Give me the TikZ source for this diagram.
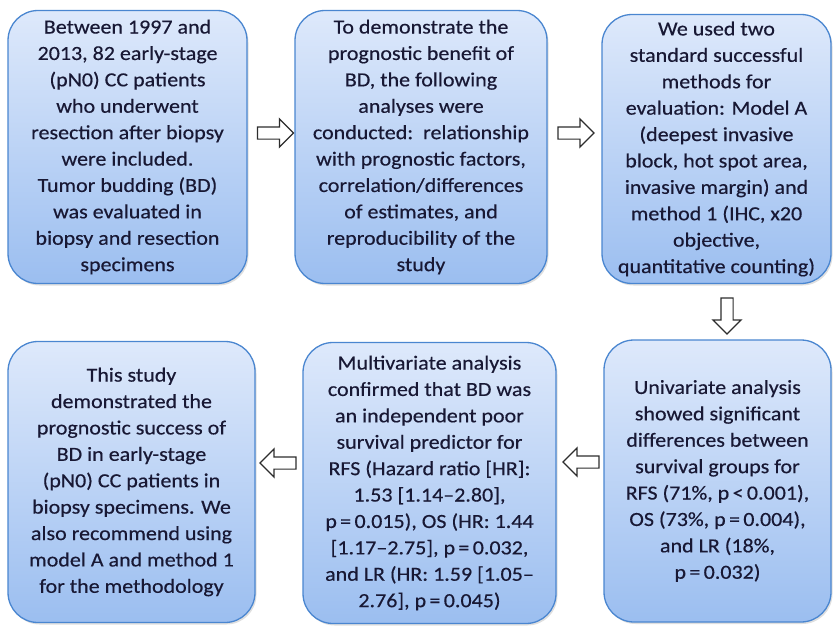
\documentclass[tikz,border=0pt]{standalone}
\usepackage{fontspec}
\setmainfont{Carlito}[FakeStretch=1.1,FakeBold=0.4]
\usetikzlibrary{shapes.arrows,shadows}
\definecolor{boxtop}{RGB}{222,233,251}
\definecolor{boxbot}{RGB}{155,190,240}
\definecolor{boxedge}{RGB}{74,134,208}
\definecolor{txt}{RGB}{24,24,52}
\definecolor{arr}{RGB}{45,45,45}
\tikzset{
  flowbox/.style={draw=boxedge, line width=1.3pt, rounded corners=30pt,
    top color=boxtop, bottom color=boxbot, align=center, text=txt,
    font=\fontsize{20}{26.4}\selectfont, inner sep=0pt,
    drop shadow={opacity=0.25, shadow xshift=1.5pt, shadow yshift=-2pt}},
  blockarrow/.style={single arrow, draw=arr, fill=white, line width=1.2pt,
    minimum height=36pt, inner xsep=0pt, inner ysep=5.5pt,
    single arrow head extend=8pt, single arrow head indent=0pt}
}
\begin{document}
\begin{tikzpicture}[x=1pt,y=-1pt]
\useasboundingbox (0,0) rectangle (833,626);
\node[flowbox, minimum width=239pt, minimum height=273pt] (b1) at (127.5,147)
 {Between 1997 and\\2013, 82 early-stage\\(pN0) CC patients\\who underwent\\resection after biopsy\\were included.\\Tumor budding (BD)\\was evaluated in\\biopsy and resection\\specimens};
\node[flowbox, minimum width=252pt, minimum height=273pt] (b2) at (421,147)
 {To demonstrate the\\prognostic benefit of\\BD, the following\\analyses were\\conducted:\ \ relationship\\with prognostic factors,\\correlation/differences\\of estimates, and\\reproducibility of the\\study};
\node[flowbox, minimum width=229pt, minimum height=269pt] (b3) at (716.5,149)
 {We used two\\standard successful\\methods for\\evaluation: Model A\\(deepest invasive\\block, hot spot area,\\invasive margin) and\\method 1 (IHC, x20\\objective,\\quantitative counting)};
\node[flowbox, minimum width=227pt, minimum height=282pt] (b4) at (717.5,481)
 {Univariate analysis\\showed significant\\differences between\\survival groups for\\RFS (71\%, p\,<\,0.001),\\OS (73\%, p\,=\,0.004),\\and LR (18\%,\\p\,=\,0.032)};
\node[flowbox, minimum width=253pt, minimum height=281pt] (b5) at (429.5,483)
 {Multivariate analysis\\confirmed that BD was\\an independent poor\\survival predictor for\\RFS (Hazard ratio [HR]:\\1.53 [1.14--2.80],\\p\,=\,0.015), OS (HR: 1.44\\{[1.17--2.75]}, p\,=\,0.032,\\and LR (HR: 1.59 [1.05--\\2.76], p\,=\,0.045)};
\node[flowbox, minimum width=247pt, minimum height=281pt] (b6) at (131.5,482)
 {This study\\demonstrated the\\prognostic success of\\BD in early-stage\\(pN0) CC patients in\\biopsy specimens. We\\also recommend using\\model A and method 1\\for the methodology};
\node[blockarrow] (a1) at (272.5,133) {};
\node[blockarrow] (a2) at (573,133) {};
\node[blockarrow, rotate=-90] (a3) at (727,313) {};
\node[blockarrow, shape border rotate=180] (a4) at (584,462) {};
\node[blockarrow, shape border rotate=180] (a5) at (281,463) {};
\end{tikzpicture}
\end{document}
